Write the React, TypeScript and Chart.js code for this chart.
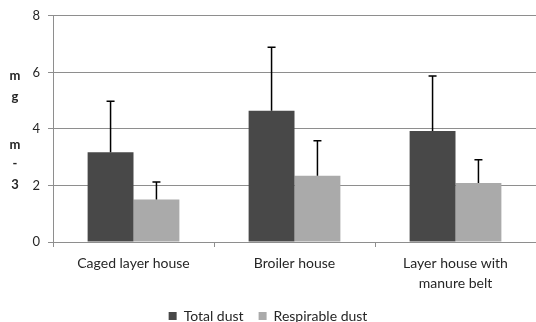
import React, { useEffect, useRef } from "react";
import { Chart, registerables } from "chart.js";

Chart.register(...registerables);

const categories: string[][] = [["Caged layer house"], ["Broiler house"], ["Layer house with", "manure belt"]];
const totalDust = [3.17, 4.64, 3.93];
const totalDustErr = [1.81, 2.25, 1.94];
const respirableDust = [1.5, 2.34, 2.09];
const respirableDustErr = [0.62, 1.24, 0.82];
const yTicks = [0, 2, 4, 6, 8];
const yTitleChars = ["m", "g", "m", "-", "3"];
const yTitleOffsets = [0, 21, 69, 88, 109];

const FONT = "Lato, 'Open Sans', sans-serif";
const TEXT = "#262626";
const GRID = "#8e8e8e";

const errorBarPlugin = {
  id: "errorBars",
  afterDatasetsDraw(chart: any) {
    const ctx = chart.ctx;
    const yScale = chart.scales.y;
    chart.data.datasets.forEach((ds: any, di: number) => {
      const meta = chart.getDatasetMeta(di);
      meta.data.forEach((bar: any, i: number) => {
        const v = ds.data[i];
        const e = ds.errors[i];
        const yTop = yScale.getPixelForValue(v + e);
        ctx.save();
        ctx.strokeStyle = "#000";
        ctx.lineWidth = 1.5;
        ctx.beginPath();
        ctx.moveTo(bar.x, bar.y);
        ctx.lineTo(bar.x, yTop);
        ctx.moveTo(bar.x - 4, yTop);
        ctx.lineTo(bar.x + 4, yTop);
        ctx.stroke();
        ctx.restore();
      });
    });
  },
};

const yTitlePlugin = {
  id: "yTitle",
  afterDraw(chart: any) {
    const ctx = chart.ctx;
    const yScale = chart.scales.y;
    ctx.save();
    ctx.font = `bold 13px ${FONT}`;
    ctx.fillStyle = TEXT;
    ctx.textAlign = "center";
    ctx.textBaseline = "middle";
    const startY = yScale.getPixelForValue(5.89);
    yTitleChars.forEach((c, i) => {
      ctx.fillText(c, 15, startY + yTitleOffsets[i]);
    });
    ctx.restore();
  },
};

export default function App() {
  const ref = useRef<HTMLCanvasElement>(null);
  useEffect(() => {
    document.body.style.margin = "0";
    const chart = new Chart(ref.current!, {
      type: "bar",
      data: {
        labels: categories,
        datasets: [
          {
            label: "Total dust",
            data: totalDust,
            errors: totalDustErr,
            backgroundColor: "#484848",
            categoryPercentage: 0.57,
            barPercentage: 1.0,
          } as any,
          {
            label: "Respirable dust",
            data: respirableDust,
            errors: respirableDustErr,
            backgroundColor: "#aaaaaa",
            categoryPercentage: 0.57,
            barPercentage: 1.0,
          } as any,
        ],
      },
      options: {
        animation: false,
        responsive: false,
        layout: { padding: { top: 14, left: 0, right: 0, bottom: 0 } },
        plugins: {
          tooltip: { enabled: false },
          legend: {
            position: "bottom",
            maxHeight: 28,
            labels: {
              boxWidth: 8,
              boxHeight: 8,
              padding: 15,
              color: TEXT,
              font: { family: FONT, size: 14 },
            },
          },
        },
        scales: {
          x: {
            offset: true,
            grid: { drawOnChartArea: false, offset: true, tickLength: 5, color: GRID },
            border: { color: GRID },
            ticks: {
              color: TEXT,
              padding: 6,
              font: { family: FONT, size: 14, lineHeight: "20px" } as any,
              maxRotation: 0,
              autoSkip: false,
            },
            afterFit(scale: any) {
              scale.height = 52;
            },
          },
          y: {
            min: 0,
            max: 8,
            afterBuildTicks(scale: any) {
              scale.ticks = yTicks.map((v) => ({ value: v }));
            },
            grid: { color: GRID, tickLength: 5 },
            border: { color: GRID },
            ticks: { color: TEXT, padding: 8, font: { family: FONT, size: 13 } },
            afterFit(scale: any) {
              scale.width = 53;
            },
          },
        },
      },
      plugins: [errorBarPlugin, yTitlePlugin],
    });
    return () => chart.destroy();
  }, []);
  return <canvas ref={ref} width={536} height={322} />;
}
